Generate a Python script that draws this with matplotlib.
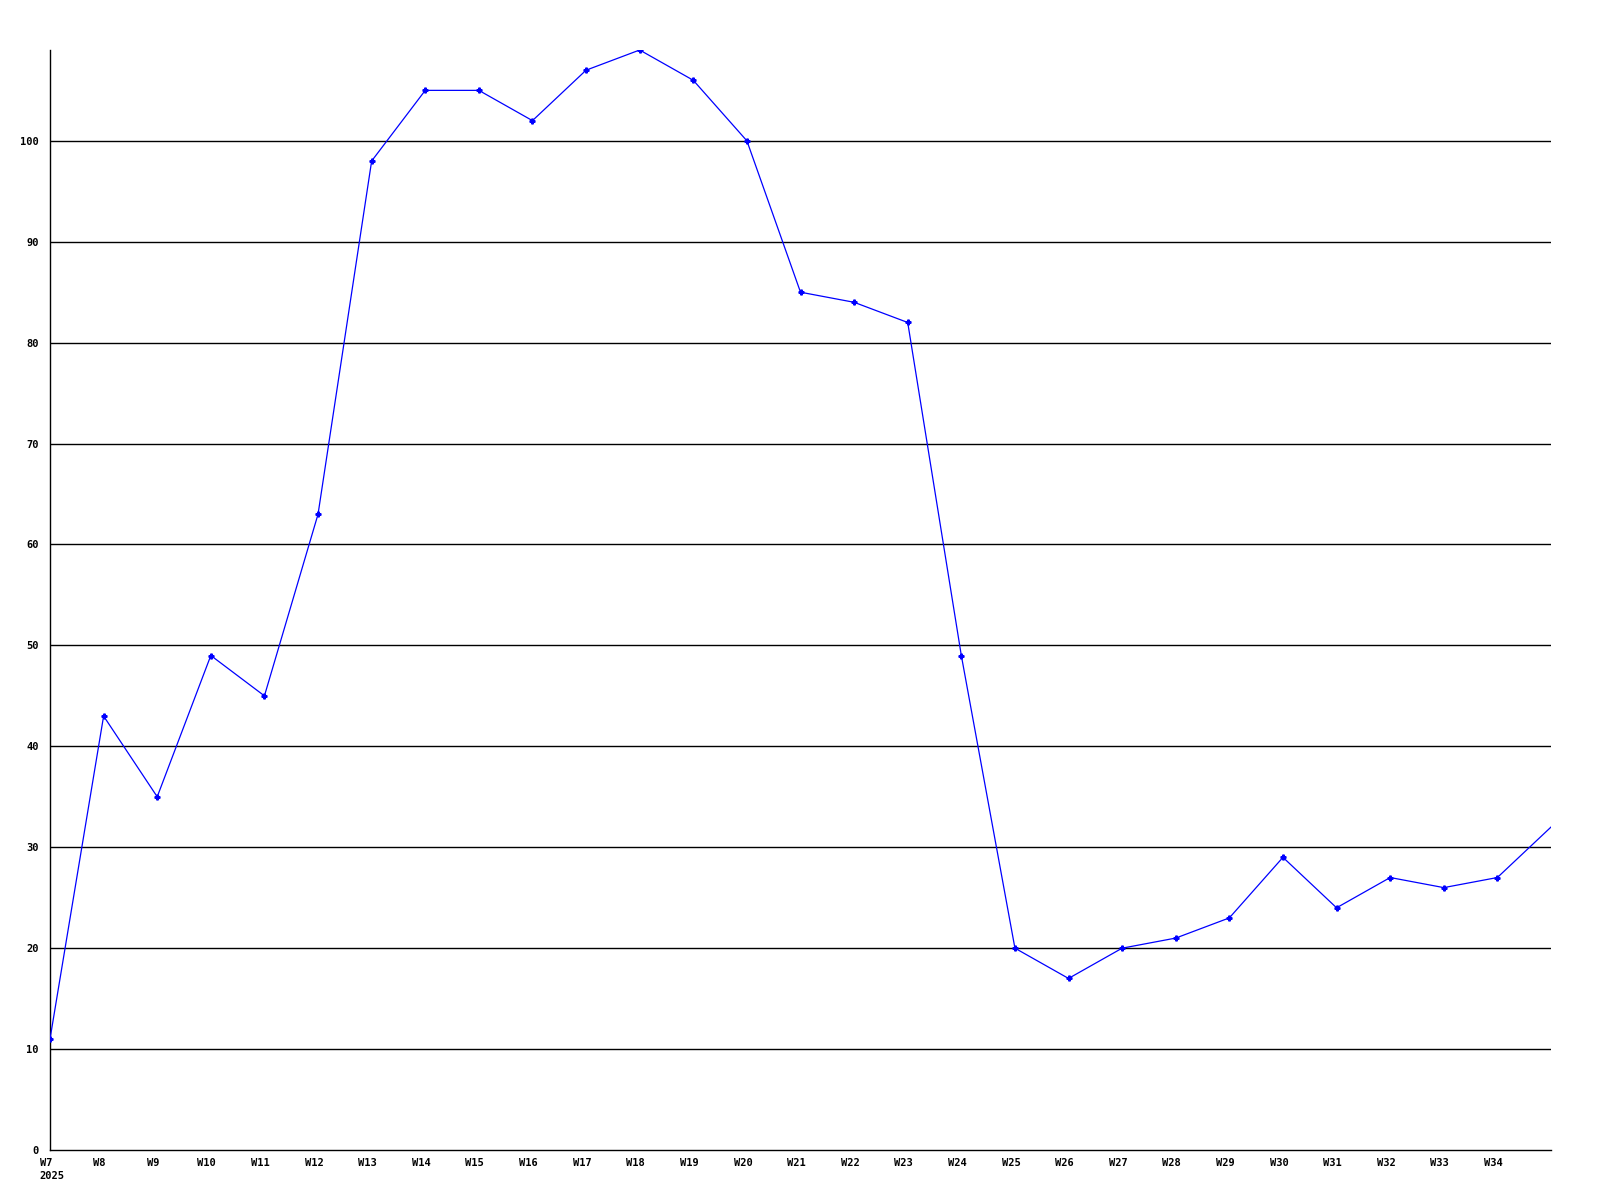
import matplotlib
matplotlib.use('Agg')
import matplotlib.pyplot as plt
import matplotlib.transforms as mtransforms

# Weekly values
weeks = ['W7', 'W8', 'W9', 'W10', 'W11', 'W12', 'W13', 'W14', 'W15', 'W16',
         'W17', 'W18', 'W19', 'W20', 'W21', 'W22', 'W23', 'W24', 'W25', 'W26',
         'W27', 'W28', 'W29', 'W30', 'W31', 'W32', 'W33', 'W34', 'W35']
values = [11, 43, 35, 49, 45, 63, 98, 105, 105, 102,
          107, 109, 106, 100, 85, 84, 82, 49, 20, 17,
          20, 21, 23, 29, 24, 27, 26, 27, 32]
y_ticks = [0, 10, 20, 30, 40, 50, 60, 70, 80, 90, 100]

fig = plt.figure(figsize=(16, 12), dpi=100)
ax = fig.add_axes([50 / 1600, 50 / 1200, 1501 / 1600, 1100 / 1200])

x = list(range(len(values)))
for v in y_ticks[1:]:
    ax.axhline(v, color='black', lw=1, zorder=1)
# last point sits on the right edge, no marker drawn there
ax.plot(x, values, color='blue', lw=0.9, marker='P', markersize=3.5,
        markevery=list(range(len(values) - 1)), zorder=3)

ax.set_xlim(0, len(values) - 1)
ax.set_ylim(0, 109)

font = dict(family='DejaVu Sans Mono', weight='bold', size=7.5)
ax.set_xticks(x[:-1])
ax.set_xticklabels(weeks[:-1], **font)
ax.set_yticks(y_ticks)
ax.set_yticklabels([str(v) for v in y_ticks], **font)
ax.tick_params(length=0, pad=6)
ax.tick_params(axis='y', pad=8)

# labels in the original sit a few pixels left of their ticks
shift = mtransforms.ScaledTranslation(-4 / 100, 0, fig.dpi_scale_trans)
for lbl in ax.get_xticklabels():
    lbl.set_transform(lbl.get_transform() + shift)

ax.text(-0.2, -0.019, '2025', transform=ax.get_xaxis_transform(), ha='left', va='top', **font)

for s in ['top', 'right']:
    ax.spines[s].set_visible(False)
for s in ['left', 'bottom']:
    ax.spines[s].set_linewidth(1)

fig.savefig('out.png', dpi=100)
